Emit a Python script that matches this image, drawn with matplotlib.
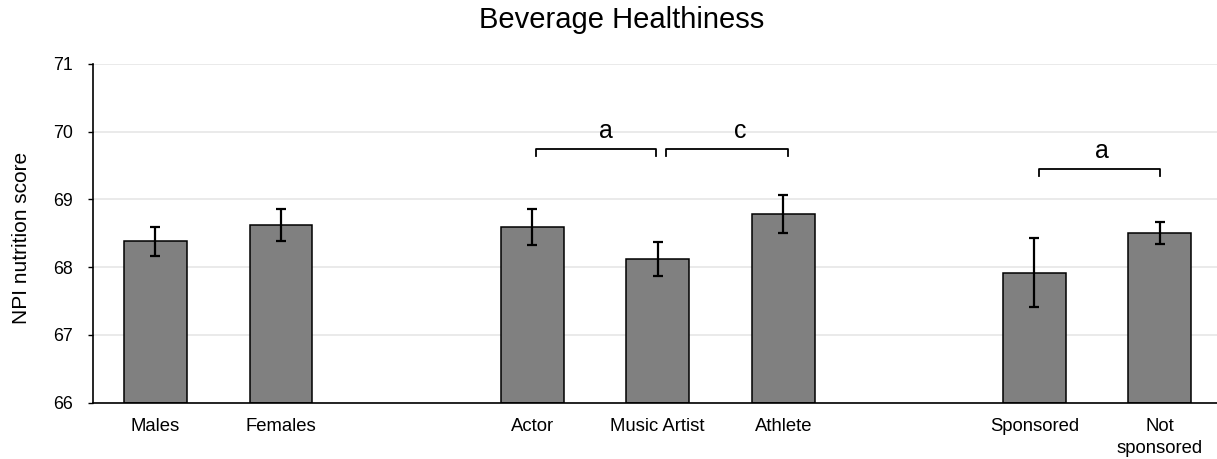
import numpy as np
import matplotlib
matplotlib.use("Agg")
import matplotlib.pyplot as plt

plt.rcParams["font.family"] = ["Liberation Sans", "DejaVu Sans"]

# Category groups (a blank slot separates each group)
groups = [
    ["Males", "Females"],
    ["Actor", "Music Artist", "Athlete"],
    ["Sponsored", "Not\nsponsored"],
]
means = [68.38, 68.62, 68.59, 68.12, 68.78, 67.92, 68.50]
errors = [0.21, 0.235, 0.27, 0.25, 0.28, 0.515, 0.16]

# Significance brackets: (left category, right category, letter, height)
bracket_pairs = [("Actor", "Music Artist"), ("Music Artist", "Athlete"),
                 ("Sponsored", "Not\nsponsored")]
bracket_letters = ["a", "c", "a"]
bracket_heights = [69.74, 69.74, 69.45]

# slot positions for every category, leaving one empty slot between groups
labels, positions = [], []
slot = 0
for g in groups:
    for name in g:
        labels.append(name)
        positions.append(slot)
        slot += 1
    slot += 1
pos_of = dict(zip(labels, positions))

W, H, DPI = 1217, 459, 100
fig = plt.figure(figsize=(W / DPI, H / DPI), dpi=DPI)
ax = fig.add_axes([92.7 / W, 1 - 402.7 / H, (W - 92.7) / W, (402.7 - 63.7) / H])

ax.set_ylim(66, 71)
ax.set_xlim(-0.5, 8.455)
ax.set_yticks(np.arange(66, 72, 1))
ax.yaxis.grid(True, color="#e6e6e6", linewidth=1.2)
ax.set_axisbelow(True)

ax.bar(positions, [m - 66 for m in means], bottom=66, width=0.5,
       color="#808080", edgecolor="black", linewidth=1.1, zorder=2)
ax.errorbar(positions, means, yerr=errors, fmt="none", ecolor="black",
            elinewidth=1.6, capsize=3.5, capthick=1.6, zorder=3)

# brackets
end_inset = [(0.03, -0.01), (0.07, 0.04), (0.04, 0.0)]
text_dx = [0.08, 0.10, 0.02]
for (left, right), letter, yb, (dl, dr), tdx in zip(
        bracket_pairs, bracket_letters, bracket_heights, end_inset, text_dx):
    x0 = pos_of[left] + dl
    x1 = pos_of[right] + dr
    drop = 0.105
    ax.plot([x0, x0, x1, x1], [yb - drop, yb, yb, yb - drop],
            color="black", linewidth=1.3, zorder=3, clip_on=False)
    ax.text((x0 + x1) / 2 + tdx, yb + 0.26, letter, ha="center", va="center",
            fontsize=18)

ax.set_xticks(positions)
ax.set_xticklabels(labels, fontsize=13.3, linespacing=1.35)
ax.tick_params(axis="x", length=0, pad=11)
ax.tick_params(axis="y", length=3.5, width=1, pad=11, labelsize=12.8)

for side in ("top", "right"):
    ax.spines[side].set_visible(False)
ax.spines["left"].set_linewidth(1.2)
ax.spines["bottom"].set_linewidth(1.2)

fig.text(622 / W, 1 - 19.5 / H, "Beverage Healthiness", ha="center",
         va="center", fontsize=21)
fig.text(21.7 / W, 1 - 238 / H, "NPI nutrition score", rotation=90,
         ha="center", va="center", fontsize=15)

fig.savefig("out.png", dpi=DPI)
